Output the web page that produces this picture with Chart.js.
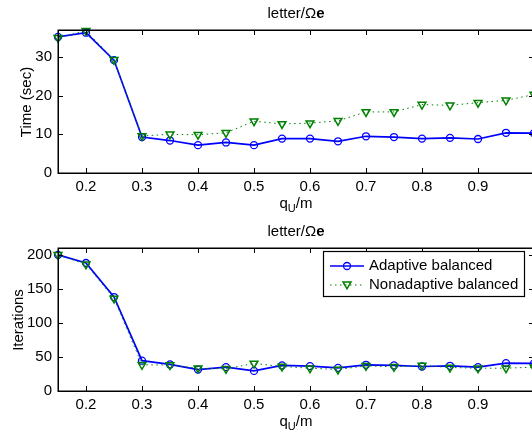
<!DOCTYPE html>
<html>
<head>
<meta charset="utf-8">
<script src="https://cdn.jsdelivr.net/npm/chart.js@4.4.1/dist/chart.umd.min.js"></script>
<style>
  html, body { margin: 0; padding: 0; background: #fff; }
  #wrap { position: relative; width: 532px; height: 436px; overflow: hidden; background: #fff; font-family: "Liberation Sans", Arial, sans-serif; color: #000; }
  canvas { position: absolute; left: 0; }
  .title, .xlabel { position: absolute; left: 58px; width: 476px; text-align: center; font-size: 15px; line-height: 16px; }
  .ylabel { position: absolute; font-size: 15px; line-height: 16px; white-space: nowrap; transform: translate(-50%, -50%) rotate(-90deg); }
  sub { font-size: 11px; vertical-align: -4px; line-height: 0; }
</style>
</head>
<body>
<div id="wrap">
  <canvas id="timeChart" width="560" height="218" style="top:0"></canvas>
  <canvas id="iterChart" width="560" height="218" style="top:218px"></canvas>
  <div class="title" style="top:5px">letter/Ω<b>e</b></div>
  <div class="xlabel" style="top:195px">q<sub>U</sub>/m</div>
  <div class="ylabel" style="left:26px; top:102px">Time (sec)</div>
  <div class="title" style="top:223px">letter/Ω<b>e</b></div>
  <div class="xlabel" style="top:413px">q<sub>U</sub>/m</div>
  <div class="ylabel" style="left:18px; top:320px">Iterations</div>
</div>
<script>
const qValues = [0.15, 0.2, 0.25, 0.3, 0.35, 0.4, 0.45, 0.5, 0.55, 0.6, 0.65, 0.7, 0.75, 0.8, 0.85, 0.9, 0.95, 1.0];
const xTicks = [0.2, 0.3, 0.4, 0.5, 0.6, 0.7, 0.8, 0.9, 1.0];

const timeAdaptive = [35.2, 36.3, 29.2, 9.3, 8.4, 7.2, 7.9, 7.2, 8.9, 8.9, 8.2, 9.5, 9.3, 8.9, 9.1, 8.8, 10.4, 10.3];
const timeNonadaptive = [35.0, 36.8, 29.3, 9.6, 10.0, 9.9, 10.4, 13.4, 12.7, 12.9, 13.5, 15.8, 15.8, 17.7, 17.5, 18.2, 18.8, 20.3];
const timeTicks = [0, 10, 20, 30];

const iterAdaptive = [200, 188, 138, 44.5, 39, 31.5, 35, 29.5, 37.5, 36.5, 34, 38.5, 37.5, 36, 37, 35, 41, 40.5];
const iterNonadaptive = [200, 186, 136, 38.5, 38, 33.5, 32.5, 40.5, 36, 33.5, 31.5, 37, 35.5, 37.5, 34.5, 33.5, 33.5, 35];
const iterTicks = [0, 50, 100, 150, 200];

const seriesNames = ["Adaptive balanced", "Nonadaptive balanced"];
const BLUE = "#0000ff";
const GREEN = "#008000";
const FONT = "Liberation Sans";

function drawMarker(ctx, kind, x, y) {
  ctx.beginPath();
  if (kind === "circle") {
    ctx.strokeStyle = BLUE;
    ctx.lineWidth = 1.3;
    ctx.arc(x, y, 3.5, 0, Math.PI * 2);
  } else {
    ctx.strokeStyle = GREEN;
    ctx.lineWidth = 1.5;
    ctx.moveTo(x - 4, y - 3);
    ctx.lineTo(x + 4, y - 3);
    ctx.lineTo(x, y + 3.8);
    ctx.closePath();
  }
  ctx.stroke();
}

// axes box with inward ticks, matlab style
const boxPlugin = {
  id: "box",
  afterDraw(chart) {
    const { ctx, chartArea: a, scales } = chart;
    ctx.save();
    ctx.strokeStyle = "#000";
    ctx.lineWidth = 1;
    ctx.beginPath();
    scales.x.ticks.forEach(t => {
      const px = Math.round(scales.x.getPixelForValue(t.value)) + 0.5;
      ctx.moveTo(px, a.bottom); ctx.lineTo(px, a.bottom - 5);
      ctx.moveTo(px, a.top); ctx.lineTo(px, a.top + 5);
    });
    scales.y.ticks.forEach(t => {
      const py = Math.round(scales.y.getPixelForValue(t.value)) + 0.5;
      ctx.moveTo(a.left, py); ctx.lineTo(a.left + 5, py);
      ctx.moveTo(a.right, py); ctx.lineTo(a.right - 5, py);
    });
    ctx.stroke();
    ctx.lineWidth = 1.5;
    ctx.strokeRect(Math.round(a.left) + 0.25, Math.round(a.top) + 0.25, a.right - a.left, a.bottom - a.top);
    ctx.restore();
  }
};

const legendPlugin = {
  id: "boxLegend",
  afterDraw(chart) {
    const ctx = chart.ctx;
    const x0 = 323, y0 = 33, w = 201, h = 45;
    ctx.save();
    ctx.fillStyle = "#fff";
    ctx.fillRect(x0, y0, w, h);
    ctx.strokeStyle = "#000";
    ctx.lineWidth = 1.2;
    ctx.strokeRect(x0 + 0.5, y0 + 0.5, w, h);
    const rows = [y0 + 15, y0 + 34];
    // adaptive
    ctx.strokeStyle = BLUE; ctx.lineWidth = 1.7; ctx.setLineDash([]);
    ctx.beginPath(); ctx.moveTo(330, rows[0]); ctx.lineTo(364, rows[0]); ctx.stroke();
    drawMarker(ctx, "circle", 347, rows[0]);
    // nonadaptive
    ctx.strokeStyle = GREEN; ctx.lineWidth = 1; ctx.setLineDash([1.5, 3.5]);
    ctx.beginPath(); ctx.moveTo(330, rows[1]); ctx.lineTo(364, rows[1]); ctx.stroke();
    ctx.setLineDash([]);
    drawMarker(ctx, "triangle", 347, rows[1]);
    ctx.fillStyle = "#000";
    ctx.font = "15px '" + FONT + "'";
    ctx.textBaseline = "middle";
    ctx.fillText(seriesNames[0], 369, rows[0]);
    ctx.fillText(seriesNames[1], 369, rows[1]);
    ctx.restore();
  }
};

function makeChart(id, adaptive, nonadaptive, yMax, yTicks, withLegend) {
  const ctx = document.getElementById(id).getContext("2d");
  const toPoints = arr => arr.map((v, i) => ({ x: qValues[i], y: v }));
  return new Chart(ctx, {
    type: "line",
    data: {
      datasets: [
        {
          label: seriesNames[0],
          data: toPoints(adaptive),
          borderColor: BLUE,
          borderWidth: 1.7,
          pointStyle: "circle",
          pointRadius: 3.5,
          pointBorderWidth: 1.3,
          pointBorderColor: BLUE,
          pointBackgroundColor: "rgba(0,0,0,0)",
          tension: 0,
          clip: false,
          order: 2
        },
        {
          label: seriesNames[1],
          data: toPoints(nonadaptive),
          borderColor: GREEN,
          borderWidth: 1,
          borderDash: [1.5, 3.5],
          pointStyle: "triangle",
          pointRotation: 180,
          pointRadius: 4.5,
          pointBorderWidth: 1.5,
          pointBorderColor: GREEN,
          pointBackgroundColor: "rgba(0,0,0,0)",
          tension: 0,
          clip: false,
          order: 1
        }
      ]
    },
    options: {
      responsive: false,
      animation: false,
      devicePixelRatio: 1,
      layout: { padding: { top: 30, right: 26, left: 0, bottom: 0 } },
      plugins: { legend: { display: false }, tooltip: { enabled: false } },
      scales: {
        x: {
          type: "linear",
          min: 0.15,
          max: 1.0,
          afterBuildTicks(scale) { scale.ticks = xTicks.map(v => ({ value: v })); },
          afterFit(scale) { scale.height = 45; },
          grid: { display: false, drawTicks: false },
          border: { display: false },
          ticks: {
            autoSkip: false,
            maxRotation: 0,
            padding: 5,
            color: "#000",
            font: { family: FONT, size: 15 },
            callback: v => (v < 0.95 ? v.toFixed(1) : "")
          }
        },
        y: {
          min: 0,
          max: yMax,
          afterBuildTicks(scale) { scale.ticks = yTicks.map(v => ({ value: v })); },
          afterFit(scale) { scale.width = 58; },
          grid: { display: false, drawTicks: false },
          border: { display: false },
          ticks: {
            padding: 6,
            color: "#000",
            font: { family: FONT, size: 15 },
            callback: v => String(v)
          }
        }
      }
    },
    plugins: withLegend ? [boxPlugin, legendPlugin] : [boxPlugin]
  });
}

makeChart("timeChart", timeAdaptive, timeNonadaptive, 37, timeTicks, false);
makeChart("iterChart", iterAdaptive, iterNonadaptive, 210, iterTicks, true);
</script>
</body>
</html>
